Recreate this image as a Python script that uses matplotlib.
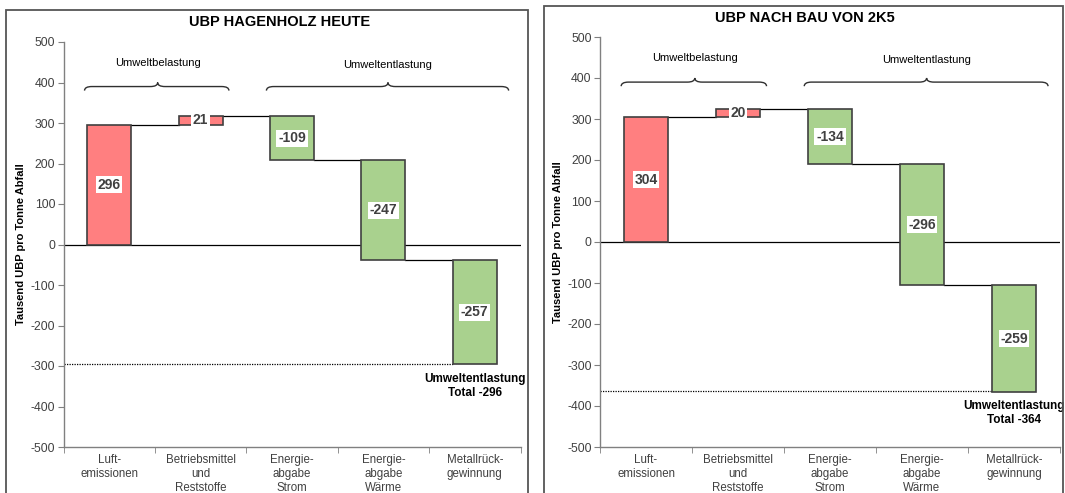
import numpy as np
import matplotlib.pyplot as plt
from matplotlib.patches import Rectangle, PathPatch
from matplotlib.path import Path

plt.rcParams['font.family'] = ['Liberation Sans', 'DejaVu Sans']
plt.rcParams['axes.unicode_minus'] = False

categories = ['Luft-\nemissionen', 'Betriebsmittel\nund\nReststoffe',
              'Energie-\nabgabe\nStrom', 'Energie-\nabgabe\nWärme',
              'Metallrück-\ngewinnung']
titles = ['UBP HAGENHOLZ HEUTE', 'UBP NACH BAU VON 2K5']
values_heute = [296, 21, -109, -247, -257]
values_2k5 = [304, 20, -134, -296, -259]
totals = [-296, -364]
yticks = [500, 400, 300, 200, 100, 0, -100, -200, -300, -400, -500]

red = '#FF7F80'
green = '#A9D18E'
edge = '#404040'
grey = '#404040'


def brace(ax, x0, x1, xm, y, h):
    # horizontal curly brace, ends hooked down, tip up
    dx = 0.08
    verts = [(x0, y - h), (x0, y), (x0 + dx, y),
             (xm - dx, y), (xm, y), (xm, y + h),
             (xm, y), (xm + dx, y),
             (x1 - dx, y), (x1, y), (x1, y - h)]
    codes = [Path.MOVETO, Path.CURVE3, Path.CURVE3,
             Path.LINETO, Path.CURVE3, Path.CURVE3,
             Path.CURVE3, Path.CURVE3,
             Path.LINETO, Path.CURVE3, Path.CURVE3]
    ax.add_patch(PathPatch(Path(verts, codes), fill=False, ec='#303030',
                           lw=1.0, clip_on=False))


def waterfall(ax, values, total):
    x = np.arange(len(values))
    w = 0.48
    starts = np.concatenate([[0], np.cumsum(values)[:-1]])
    ends = starts + np.array(values)
    colors = [red if v > 0 else green for v in values]
    ax.bar(x, values, bottom=starts, width=w, color=colors, edgecolor=edge,
           linewidth=1.2, zorder=3)

    # connectors between bars
    for i in range(len(values) - 1):
        ax.plot([x[i] + w / 2, x[i + 1] - w / 2], [ends[i], ends[i]],
                color='black', lw=0.9, zorder=2)

    ax.axhline(0, color='black', lw=0.9, zorder=2)
    ax.plot([-0.5, x[-1] - w / 2], [total, total], color='black', lw=0.9,
            ls=(0, (1, 1)), zorder=2)

    for xi, s, v in zip(x, starts, values):
        ax.text(xi, s + v / 2, str(v), ha='center', va='center',
                fontsize=10, fontweight='bold', color=grey, zorder=4,
                bbox=dict(boxstyle='square,pad=0.12', fc='white', ec='none'))

    ax.text(x[-1], total - 22, 'Umweltentlastung\nTotal %d' % total,
            ha='center', va='top', fontsize=8.5, fontweight='bold',
            color='black', linespacing=1.15)

    brace(ax, -0.27, 1.31, 0.53, 390, 10)
    brace(ax, 1.72, 4.37, 3.05, 390, 10)
    ax.text(0.53, 448, 'Umweltbelastung', ha='center', va='center',
            fontsize=8, color='black')
    ax.text(3.05, 443, 'Umweltentlastung', ha='center', va='center',
            fontsize=8, color='black')

    ax.set_xlim(-0.5, len(values) - 0.5)
    ax.set_ylim(-500, 500)
    ax.set_yticks(yticks)
    ax.set_xticks(x)
    ax.set_xticklabels(categories, fontsize=8.3, color=grey,
                       linespacing=1.2)
    ax.set_xticks(np.arange(len(values) + 1) - 0.5, minor=True)
    ax.tick_params(axis='x', which='major', length=0, pad=5)
    ax.tick_params(axis='x', which='minor', length=4, color='#808080')
    ax.tick_params(axis='y', labelsize=8.8, labelcolor=grey, length=4,
                   color='#808080', pad=2)
    for s in ['top', 'right']:
        ax.spines[s].set_visible(False)
    for s in ['left', 'bottom']:
        ax.spines[s].set_color('#808080')
        ax.spines[s].set_linewidth(1.0)
    ax.set_ylabel('Tausend UBP pro Tonne Abfall', fontsize=8,
                  fontweight='bold', color='black', labelpad=3)


fig = plt.figure(figsize=(10.65, 4.93), dpi=100)

# panel frames
fig.add_artist(Rectangle((6 / 1065, -0.05), 522 / 1065, 1.05 - 10 / 493,
                         transform=fig.transFigure, fill=False,
                         ec='#555555', lw=1.3))
fig.add_artist(Rectangle((544 / 1065, -0.05), 519 / 1065, 1.05 - 6 / 493,
                         transform=fig.transFigure, fill=False,
                         ec='#555555', lw=1.3))

ax1 = fig.add_axes([63.5 / 1065, 1 - 447 / 493, 457 / 1065, 405 / 493])
ax2 = fig.add_axes([600 / 1065, 1 - 447 / 493, 460 / 1065, 410 / 493])

waterfall(ax1, values_heute, totals[0])
waterfall(ax2, values_2k5, totals[1])

fig.text(280 / 1065, 1 - 22 / 493, titles[0], ha='center', va='center',
         fontsize=10.5, fontweight='bold')
fig.text(805 / 1065, 1 - 18 / 493, titles[1], ha='center', va='center',
         fontsize=10.5, fontweight='bold')

fig.savefig('out.png', dpi=100)
